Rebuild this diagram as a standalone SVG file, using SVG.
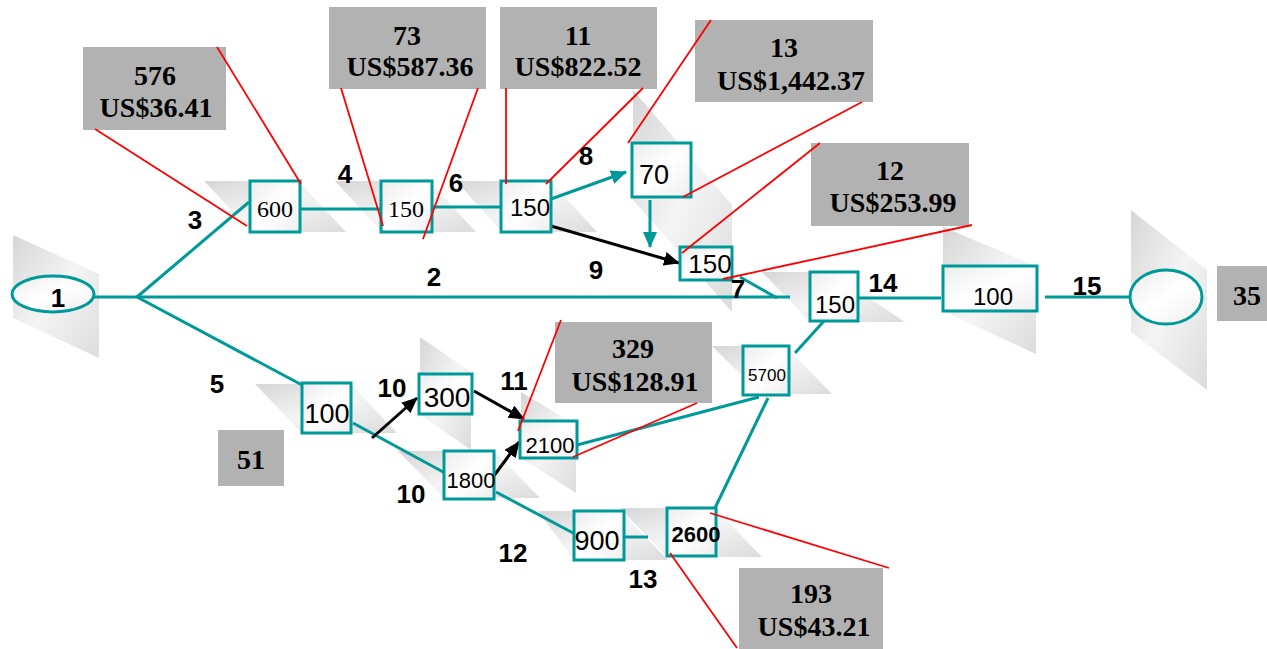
<svg xmlns="http://www.w3.org/2000/svg" width="1267" height="649" viewBox="0 0 1267 649">
<defs>
<linearGradient id="sh" x1="0" y1="0" x2="1" y2="1">
<stop offset="0" stop-color="#d6d6d6"/>
<stop offset="0.5" stop-color="#f4f4f4"/>
<stop offset="1" stop-color="#dcdcdc"/>
</linearGradient>
<linearGradient id="nf" x1="0" y1="0" x2="1" y2="1">
<stop offset="0" stop-color="#ececec"/>
<stop offset="0.5" stop-color="#ffffff"/>
<stop offset="1" stop-color="#eeeeee"/>
</linearGradient>
<marker id="at" markerWidth="16" markerHeight="14" refX="15" refY="7" orient="auto" markerUnits="userSpaceOnUse">
<path d="M0,0 L16,7 L0,14 Z" fill="#009999"/>
</marker>
<marker id="ab" markerWidth="16" markerHeight="14" refX="15" refY="7" orient="auto" markerUnits="userSpaceOnUse">
<path d="M0,0 L16,7 L0,14 Z" fill="#000000"/>
</marker>
<style>
.sh{fill:url(#sh);}
.t{stroke:#009999;stroke-width:3;fill:none;}
.k{stroke:#000;stroke-width:3;fill:none;}
.r{stroke:#ff0000;stroke-width:1.8;fill:none;}
.nb{fill:url(#nf);stroke:#009999;stroke-width:3;}
.cb{fill:#b2b2b2;}
.ct{font-family:"Liberation Serif","Times New Roman",serif;font-weight:bold;font-size:28px;fill:#000;text-anchor:middle;}
.lb{font-family:"Liberation Sans",Arial,sans-serif;font-weight:bold;font-size:26px;fill:#000;text-anchor:middle;}
.ns{font-family:"Liberation Sans",Arial,sans-serif;fill:#000;text-anchor:middle;}
.nr{font-family:"Liberation Serif","Times New Roman",serif;fill:#000;text-anchor:middle;font-size:24px;}
</style>
</defs>
<rect width="1267" height="649" fill="#ffffff"/>
<g id="shadows">
<polygon class="sh" points="13,235 99,274 99,358 13,318"/>
<polygon class="sh" points="1131,210 1207,270 1207,390 1131,332"/>
<polygon class="sh" points="943,227 1036,266 1036,354 943,311"/>
<polygon class="sh" points="204,181 298,181 346,232 252,232"/>
<polygon class="sh" points="335,181 429,181 476,232 382,232"/>
<polygon class="sh" points="456,181 550,181 597,232 502,232"/>
<polygon class="sh" points="633,90 732,205 732,312 633,200"/>
<polygon class="sh" points="762,272 830,272 905,322 810,322"/>
<polygon class="sh" points="255,384 351,384 397,433 302,433"/>
<polygon class="sh" points="420,337 471,372 471,450 420,414"/>
<polygon class="sh" points="521,392 576,425 576,493 521,458"/>
<polygon class="sh" points="398,451 494,451 540,498 444,498"/>
<polygon class="sh" points="538,511 620,511 668,560 574,560"/>
<polygon class="sh" points="620,508 715,508 762,557 667,557"/>
<polygon class="sh" points="712,346 785,346 832,394 760,394"/>
</g>
<g id="connectors">
<line class="t" x1="94" y1="297" x2="790" y2="297"/>
<line class="t" x1="137" y1="297" x2="249" y2="202"/>
<line class="t" x1="137" y1="297" x2="302" y2="385"/>
<line class="t" x1="300" y1="209" x2="381" y2="209" stroke-width="4"/>
<line class="t" x1="432" y1="207" x2="501" y2="207"/>
<line class="t" x1="551" y1="199" x2="626" y2="172" marker-end="url(#at)"/>
<line class="t" x1="650" y1="200" x2="650" y2="247" marker-end="url(#at)"/>
<line class="k" x1="551" y1="226" x2="679" y2="263" marker-end="url(#ab)"/>
<line class="t" x1="740" y1="277" x2="777" y2="298"/>
<line class="t" x1="858" y1="298" x2="941" y2="298"/>
<line class="t" x1="1045" y1="297" x2="1131" y2="297"/>
<line class="t" x1="353" y1="423" x2="445" y2="473"/>
<line class="k" x1="372" y1="438" x2="417" y2="398" marker-end="url(#ab)"/>
<line class="k" x1="474" y1="391" x2="524" y2="419" marker-end="url(#ab)"/>
<line class="k" x1="493" y1="477" x2="519" y2="442" marker-end="url(#ab)"/>
<line class="t" x1="496" y1="492" x2="575" y2="534"/>
<line class="t" x1="625" y1="537" x2="648" y2="537"/>
<line class="t" x1="715" y1="508" x2="768" y2="398"/>
<line class="t" x1="795" y1="353" x2="824" y2="321"/>
<line class="t" x1="577" y1="445" x2="759" y2="397"/>
</g>
<g id="n1"><ellipse class="nb" cx="53" cy="294" rx="41" ry="18"/><text class="lb" x="58" y="307">1</text></g>
<g id="n600"><rect class="nb" x="250" y="181" width="50" height="51"/><text class="nr" x="275" y="217">600</text></g>
<g id="n150a"><rect class="nb" x="381" y="181" width="51" height="51"/><text class="nr" x="406" y="217" font-size="25">150</text></g>
<g id="n150b"><rect class="nb" x="501" y="181" width="50" height="51"/><text class="ns" x="530" y="216" font-size="24">150</text></g>
<g id="n70"><rect class="nb" x="632" y="143" width="59" height="54"/><text class="ns" x="654" y="184" font-size="27">70</text></g>
<g id="n150c"><rect class="nb" x="680" y="247" width="52" height="33"/><text class="ns" x="710" y="273" font-size="26">150</text></g>
<g id="n150d"><rect class="nb" x="810" y="272" width="48" height="49"/><text class="ns" x="835" y="313" font-size="24">150</text></g>
<g id="n100r"><rect class="nb" x="943" y="266" width="94" height="45"/><text class="ns" x="993" y="305" font-size="24">100</text></g>
<g id="nEnd"><ellipse class="nb" cx="1166" cy="297" rx="36" ry="27"/></g>
<g id="n100"><rect class="nb" x="302" y="383" width="49" height="50"/><text class="ns" x="327" y="423" font-size="27">100</text></g>
<g id="n300"><rect class="nb" x="419" y="374" width="53" height="40"/><text class="ns" x="447" y="407" font-size="28">300</text></g>
<g id="n2100"><rect class="nb" x="520" y="421" width="57" height="37"/><text class="ns" x="550" y="453" font-size="22">2100</text></g>
<g id="n1800"><rect class="nb" x="444" y="451" width="50" height="48"/><text class="ns" x="471" y="488" font-size="22">1800</text></g>
<g id="n900"><rect class="nb" x="574" y="511" width="50" height="49"/><text class="ns" x="597" y="550" font-size="27">900</text></g>
<g id="n2600"><rect class="nb" x="667" y="508" width="49" height="48"/><text class="ns" x="696" y="542" font-size="22" font-weight="bold">2600</text></g>
<g id="n5700"><rect class="nb" x="743" y="346" width="46" height="49"/><text class="ns" x="767" y="381" font-size="17">5700</text></g>
<g id="callouts">
<g id="c576"><rect class="cb" x="83" y="47" width="143" height="83"/><text class="ct" x="155" y="85">576</text><text class="ct" x="156" y="117">US$36.41</text></g>
<g id="c73"><rect class="cb" x="329" y="7" width="157" height="82"/><text class="ct" x="407" y="45">73</text><text class="ct" x="410" y="76">US$587.36</text></g>
<g id="c11"><rect class="cb" x="500" y="7" width="157" height="82"/><text class="ct" x="578" y="45">11</text><text class="ct" x="578" y="76">US$822.52</text></g>
<g id="c13"><rect class="cb" x="695" y="20" width="178" height="82"/><text class="ct" x="784" y="57">13</text><text class="ct" x="791" y="90">US$1,442.37</text></g>
<g id="c12"><rect class="cb" x="811" y="143" width="158" height="83"/><text class="ct" x="890" y="180">12</text><text class="ct" x="893" y="212">US$253.99</text></g>
<g id="c35"><rect class="cb" x="1217" y="266" width="55" height="55"/><text class="ct" x="1247" y="305">35</text></g>
<g id="c51"><rect class="cb" x="218" y="430" width="66" height="56"/><text class="ct" x="251" y="469">51</text></g>
<g id="c329"><rect class="cb" x="555" y="322" width="157" height="81"/><text class="ct" x="633" y="358">329</text><text class="ct" x="635" y="391">US$128.91</text></g>
<g id="c193"><rect class="cb" x="739" y="568" width="144" height="81"/><text class="ct" x="811" y="603">193</text><text class="ct" x="814" y="636">US$43.21</text></g>
</g>
<g id="leaders">
<line class="r" x1="95" y1="129" x2="247" y2="226"/>
<line class="r" x1="217" y1="47" x2="301" y2="184"/>
<line class="r" x1="341" y1="88" x2="383" y2="226"/>
<line class="r" x1="478" y1="88" x2="423" y2="239"/>
<line class="r" x1="506" y1="88" x2="506" y2="184"/>
<line class="r" x1="643" y1="88" x2="546" y2="184"/>
<line class="r" x1="711" y1="20" x2="628" y2="143"/>
<line class="r" x1="862" y1="102" x2="683" y2="197"/>
<line class="r" x1="820" y1="143" x2="682" y2="253"/>
<line class="r" x1="972" y1="225" x2="723" y2="279"/>
<line class="r" x1="561" y1="320" x2="518" y2="431"/>
<line class="r" x1="697" y1="403" x2="573" y2="457"/>
<line class="r" x1="670" y1="553" x2="737" y2="648"/>
<line class="r" x1="710" y1="513" x2="889" y2="568"/>
</g>
<g id="labels">
<text class="lb" x="195" y="229">3</text>
<text class="lb" x="345" y="183">4</text>
<text class="lb" x="456" y="192">6</text>
<text class="lb" x="586" y="165">8</text>
<text class="lb" x="434" y="286">2</text>
<text class="lb" x="596" y="279">9</text>
<text class="lb" x="738" y="298" font-weight="normal">7</text>
<text class="lb" x="883" y="292">14</text>
<text class="lb" x="1087" y="295">15</text>
<text class="lb" x="217" y="393">5</text>
<text class="lb" x="392" y="397">10</text>
<text class="lb" x="514" y="390">11</text>
<text class="lb" x="411" y="503">10</text>
<text class="lb" x="513" y="562">12</text>
<text class="lb" x="643" y="588">13</text>
</g>
</svg>
